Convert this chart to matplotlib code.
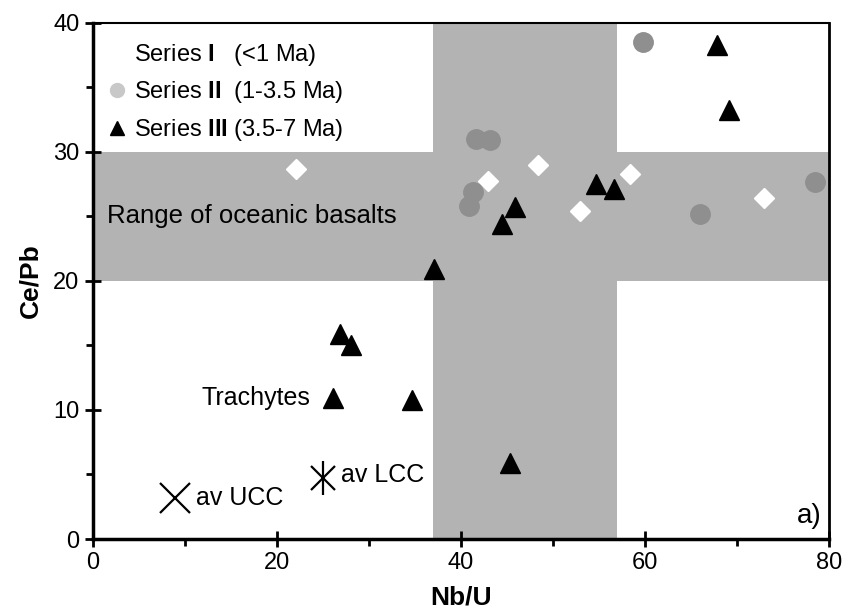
import matplotlib
matplotlib.use("Agg")
import matplotlib.pyplot as plt
from matplotlib.lines import Line2D
from matplotlib.ticker import MultipleLocator

plt.rcParams['font.family'] = ['Liberation Sans', 'DejaVu Sans']
plt.rcParams['mathtext.fontset'] = 'custom'
plt.rcParams['mathtext.rm'] = 'Liberation Sans'
plt.rcParams['mathtext.bf'] = 'Liberation Sans:bold'

# Series I (<1 Ma) - white diamonds
s1_nbu = [22.1, 42.9, 48.4, 53.0, 58.4, 73.0]
s1_cepb = [28.7, 27.75, 29.0, 25.4, 28.3, 26.4]

# Series II (1-3.5 Ma) - grey circles
s2_nbu = [59.8, 41.6, 43.2, 41.3, 40.9, 66.0, 78.5]
s2_cepb = [38.55, 31.0, 30.9, 26.9, 25.8, 25.2, 27.7]

# Series III (3.5-7 Ma) - black triangles
s3_nbu = [67.8, 69.1, 45.9, 44.5, 54.7, 56.6, 37.1, 26.9, 28.1, 26.1, 34.7, 45.3]
s3_cepb = [38.3, 33.25, 25.7, 24.4, 27.5, 27.1, 20.9, 15.9, 15.0, 10.9, 10.8, 5.9]

# crustal averages
ucc = (8.95, 3.2)
lcc = (25.0, 4.75)

# oceanic basalt ranges
ocean_cepb = (20, 30)
ocean_nbu = (37, 57)

fig = plt.figure(figsize=(8.51, 6.16), dpi=100)
ax = fig.add_axes([0.109, 0.125, 0.865, 0.838])

band = '#b3b3b3'
ax.axhspan(*ocean_cepb, color=band, lw=0, zorder=0)
ax.axvspan(*ocean_nbu, color=band, lw=0, zorder=0)

ax.plot(s1_nbu, s1_cepb, 'D', ms=10, color='white', mec='white', zorder=3)
ax.plot(s2_nbu, s2_cepb, 'o', ms=14, color='#8f8f8f', mec='#8f8f8f', zorder=3)
ax.plot(s3_nbu, s3_cepb, '^', ms=15, color='black', zorder=4)
ax.plot(*ucc, 'x', ms=22, mew=1.6, color='black')
# asterisk = x plus vertical bar
ax.plot(*lcc, 'x', ms=17, mew=1.6, color='black')
ax.plot(*lcc, '|', ms=24, mew=1.6, color='black')

ax.text(ucc[0] + 2.3, ucc[1], 'av UCC', fontsize=18, va='center')
ax.text(lcc[0] + 2.0, lcc[1] + 0.2, 'av LCC', fontsize=18, va='center')
ax.text(23.7, 10.9, 'Trachytes', fontsize=18, va='center', ha='right')
ax.text(1.5, 25.0, 'Range of oceanic basalts', fontsize=18.5, va='center')
ax.text(79.2, 1.8, 'a)', fontsize=20, va='center', ha='right')

handles = [
    Line2D([], [], ls='none', marker='D', ms=10, color='white'),
    Line2D([], [], ls='none', marker='o', ms=10, color='#c8c8c8'),
    Line2D([], [], ls='none', marker='^', ms=10, color='black'),
]
labels = [r'Series $\mathbf{I}$   (<1 Ma)',
          r'Series $\mathbf{II}$  (1-3.5 Ma)',
          r'Series $\mathbf{III}$ (3.5-7 Ma)']
ax.legend(handles, labels, loc='upper left', frameon=False, fontsize=17,
          handlelength=0.8, handletextpad=0.3, labelspacing=0.5,
          borderaxespad=0.4, bbox_to_anchor=(-0.005, 1.0))

ax.set_xlim(0, 80)
ax.set_ylim(0, 40)
ax.xaxis.set_major_locator(MultipleLocator(20))
ax.xaxis.set_minor_locator(MultipleLocator(10))
ax.yaxis.set_major_locator(MultipleLocator(10))
ax.yaxis.set_minor_locator(MultipleLocator(5))
ax.tick_params(which='major', direction='inout', length=12, width=2, labelsize=17)
ax.tick_params(which='minor', direction='out', length=5, width=2)
for side in ['bottom', 'left']:
    ax.spines[side].set_linewidth(2.5)
ax.spines['top'].set_linewidth(1.5)
ax.spines['right'].set_linewidth(2.0)

ax.set_xlabel('Nb/U', fontsize=19, fontweight='bold', labelpad=8)
ax.set_ylabel('Ce/Pb', fontsize=19, fontweight='bold', labelpad=8)

fig.savefig('out.png', dpi=100)
